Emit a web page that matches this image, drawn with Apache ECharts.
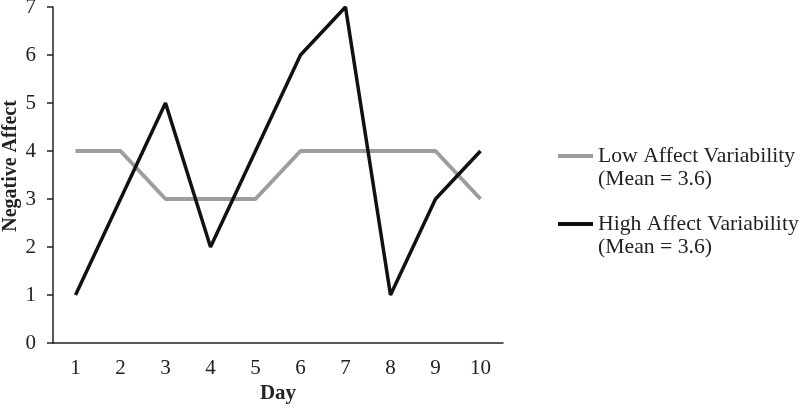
<!DOCTYPE html>
<html>
<head>
<meta charset="utf-8">
<script src="https://cdn.jsdelivr.net/npm/echarts@6/dist/echarts.min.js"></script>
<style>
  html, body { margin: 0; padding: 0; background: #fff; }
  #chart { width: 800px; height: 410px; }
</style>
</head>
<body>
<div id="chart"></div>
<script>
// data
const days = ['1', '2', '3', '4', '5', '6', '7', '8', '9', '10'];
const lowAffect = [4, 4, 3, 3, 3, 4, 4, 4, 4, 3];
const highAffect = [1, 3, 5, 2, 4, 6, 7, 1, 3, 4];
const seriesNames = ['Low Affect Variability', 'High Affect Variability'];
const seriesMeans = ['3.6', '3.6'];
const seriesColors = ['#9d9d9d', '#111'];

const serif = '"Liberation Serif", "Times New Roman", serif';
const fs = 21;

// one legend per series so the line sample sits on the first text line
function makeLegend(i, top) {
  return {
    orient: 'vertical',
    left: 558,
    top: top,
    padding: 0,
    itemWidth: 35,
    itemHeight: 4,
    icon: 'rect',
    data: [seriesNames[i]],
    formatter: function (name) {
      // blank first line keeps the name centred on the icon
      return '\n' + name + '\n(Mean = ' + seriesMeans[i] + ')';
    },
    textStyle: { fontFamily: serif, fontSize: 21.7, color: '#222', lineHeight: 23 }
  };
}

const chart = echarts.init(document.getElementById('chart'), null, { renderer: 'canvas' });

chart.setOption({
  animation: false,
  textStyle: { fontFamily: serif },
  grid: { left: 53, right: 297, top: 7, bottom: 67, outerBoundsMode: 'none', containLabel: false },
  legend: [makeLegend(0, 156 - 34.5), makeLegend(1, 224 - 34.5)],
  xAxis: {
    type: 'category',
    data: days,
    boundaryGap: true,
    name: 'Day',
    nameLocation: 'middle',
    nameGap: 40,
    nameMoveOverlap: false,
    nameTextStyle: { fontFamily: serif, fontSize: fs, fontWeight: 'bold', color: '#222' },
    axisLine: { lineStyle: { color: '#222', width: 1.5 } },
    axisTick: { show: false },
    axisLabel: { fontFamily: serif, fontSize: fs, color: '#222', margin: 15 }
  },
  yAxis: {
    type: 'value',
    min: 0,
    max: 7,
    interval: 1,
    name: 'Negative Affect',
    nameLocation: 'middle',
    nameGap: 32,
    nameMoveOverlap: false,
    nameTextStyle: { fontFamily: serif, fontSize: 20, fontWeight: 'bold', color: '#222', padding: [0, 0, 0, 18] },
    axisLine: { show: true, lineStyle: { color: '#222', width: 1.5 } },
    axisTick: { show: true, length: 6, lineStyle: { color: '#222', width: 1.5 } },
    splitLine: { show: false },
    axisLabel: { fontFamily: serif, fontSize: fs, color: '#222', margin: 17 }
  },
  series: [
    {
      name: seriesNames[0],
      type: 'line',
      data: lowAffect,
      symbol: 'none',
      lineStyle: { color: seriesColors[0], width: 4 },
      itemStyle: { color: seriesColors[0] }
    },
    {
      name: seriesNames[1],
      type: 'line',
      data: highAffect,
      symbol: 'none',
      lineStyle: { color: seriesColors[1], width: 3.5 },
      itemStyle: { color: seriesColors[1] }
    }
  ]
});
</script>
</body>
</html>
